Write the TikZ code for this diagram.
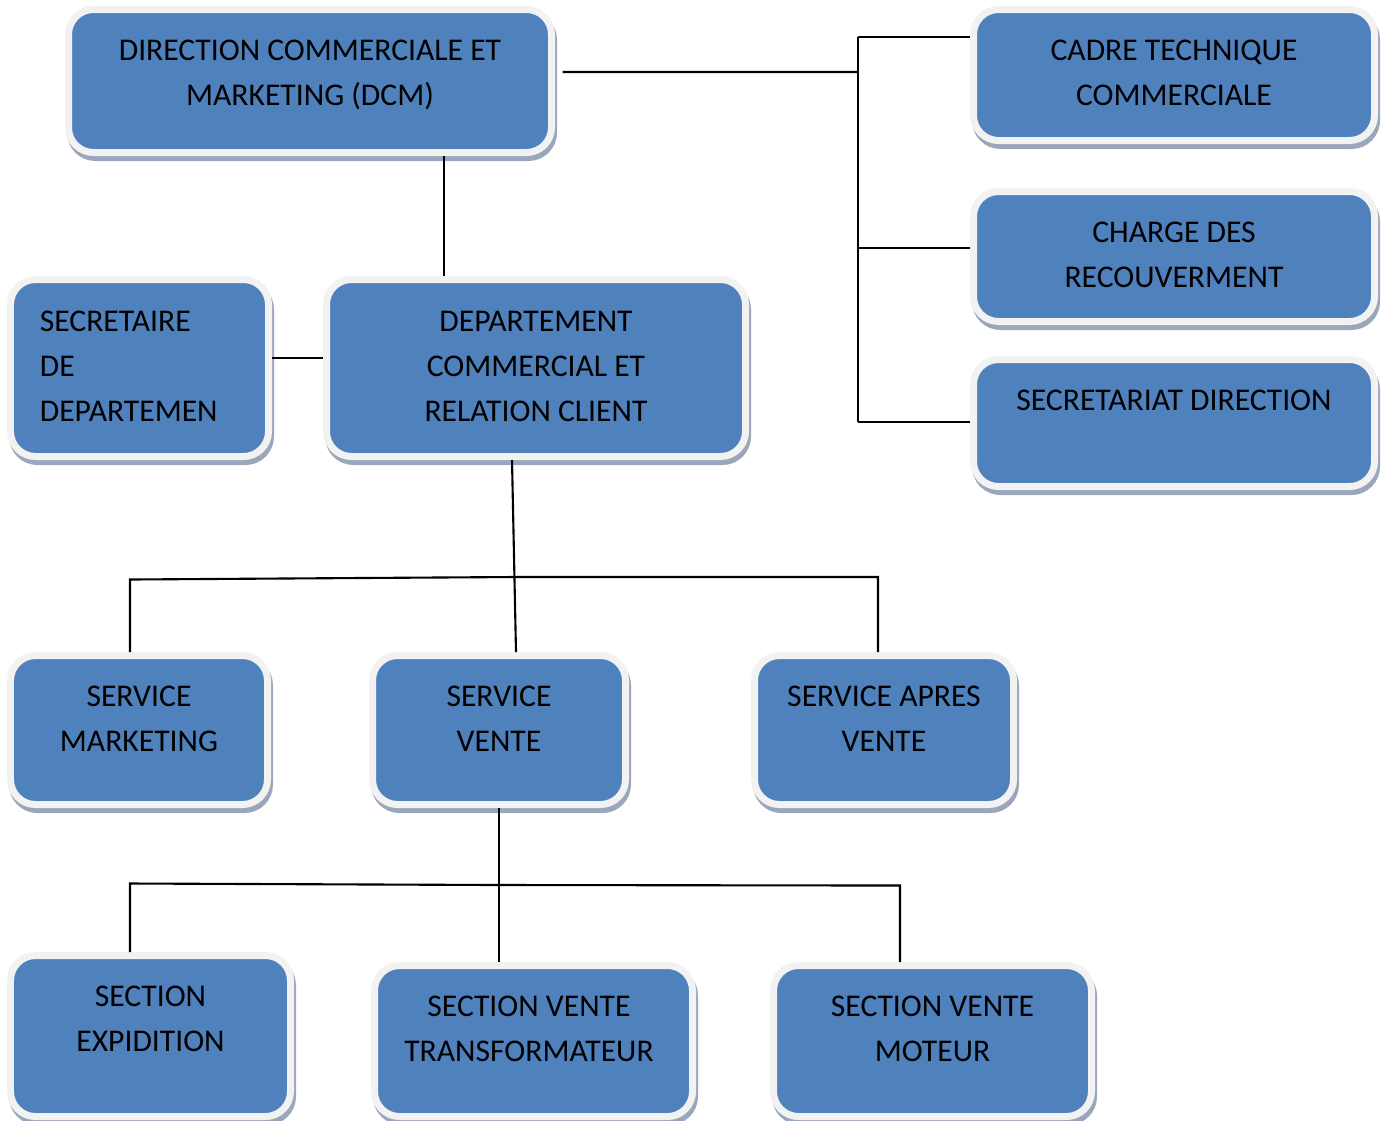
\documentclass[tikz,border=0pt]{standalone}
\usepackage{fontspec}
\setmainfont{Carlito}
\usetikzlibrary{fit,shadows}
\definecolor{unitblue}{HTML}{4F81BD}
\definecolor{unitrim}{HTML}{F2F2F2}
\definecolor{unitshade}{HTML}{9AA6BA}
\begin{document}
\begin{tikzpicture}[x=0.02cm, y=-0.02cm,
    unit/.style={rectangle, rounded corners=0.5cm, fill=unitblue,
      draw=unitrim, line width=0.14cm, inner sep=0.07cm,
      drop shadow={shadow xshift=0.04cm, shadow yshift=-0.1cm,
        fill=unitshade, draw=unitshade, line width=0.14cm, opacity=1}},
    unittext/.style={anchor=north, align=center, inner sep=0pt,
      font=\fontsize{18}{25.6}\selectfont}]
  \useasboundingbox (0,0) rectangle (1382,1120);
  % boxes
  \begin{scope}[every node/.style={unit}]
    \node[fit={(72,13) (548,149)}] (dcm) {};
    \node[fit={(977,13) (1371,137)}] (cadre) {};
    \node[fit={(977,195) (1371,318)}] (charge) {};
    \node[fit={(977,363) (1371,483)}] (secdir) {};
    \node[fit={(14,283) (265,453)}] (secdep) {};
    \node[fit={(330,283) (742,453)}] (dept) {};
    \node[fit={(14,659) (264,801)}] (smark) {};
    \node[fit={(376,659) (622,801)}] (svente) {};
    \node[fit={(758,659) (1010,801)}] (sapres) {};
    \node[fit={(14,959) (287,1113)}] (sexp) {};
    \node[fit={(378,969) (689,1113)}] (strans) {};
    \node[fit={(777,969) (1088,1113)}] (smot) {};
  \end{scope}
  % labels
  \begin{scope}[every node/.style={unittext}]
    \node (dcmtext) at ([yshift=-0.67cm]dcm.north) {DIRECTION
      COMMERCIALE ET\\MARKETING (DCM)};
    \node (cadretext) at ([yshift=-0.67cm]cadre.north) {CADRE
      TECHNIQUE\\COMMERCIALE};
    \node (chargetext) at ([yshift=-0.67cm]charge.north) {CHARGE
      DES\\RECOUVERMENT};
    \node (secdirtext) at ([yshift=-0.67cm]secdir.north) {SECRETARIAT
      DIRECTION};
    \node[anchor=north west, align=left] (secdeptext) at
    ([xshift=0.65cm,yshift=-0.69cm]secdep.north west)
    {SECRETAIRE\\DE\\DEPARTEMEN};
    \node (depttext) at ([yshift=-0.69cm]dept.north) {DEPARTEMENT\\
      COMMERCIAL ET\\RELATION CLIENT};
    \node (smarktext) at ([yshift=-0.67cm]smark.north)
    {SERVICE\\MARKETING};
    \node (sventetext) at ([yshift=-0.67cm]svente.north)
    {SERVICE\\VENTE};
    \node (saprestext) at ([yshift=-0.67cm]sapres.north) {SERVICE
      APRES\\VENTE};
    \node (sexptext) at ([yshift=-0.67cm]sexp.north)
    {SECTION\\EXPIDITION};
    \node (stranstext) at ([xshift=-0.09cm,yshift=-0.67cm]strans.north)
    {SECTION VENTE\\TRANSFORMATEUR};
    \node (smottext) at ([yshift=-0.67cm]smot.north) {SECTION
      VENTE\\MOTEUR};
  \end{scope}
  % links
  \coordinate (rbus) at (858,72); \coordinate (btop) at (858,37);
  \coordinate (bmid) at (858,248); \coordinate (bbot) at (858,422);
  \coordinate (tap) at (444,0); \coordinate (sbus) at (515,577);
  \coordinate (tbus) at (498,885);
  \begin{scope}[line width=1.2pt]
    \draw ([xshift=0.15cm,yshift=0.18cm]dcm.east) -- (rbus);
    \draw (btop) -- (bbot); \draw (btop) -- (btop -| cadre.west);
    \draw (bmid) -- (bmid -| charge.west); \draw (bbot) -- (bbot -|
    secdir.west);
    \draw (dcm.south -| tap) -- (dept.north -| tap);
    \draw ([yshift=0.2cm]secdep.east) -- ([yshift=0.2cm]dept.west);
    \draw ([xshift=-0.48cm]dept.south) -- ([xshift=0.34cm]svente.north);
    \draw ([xshift=-0.18cm]smark.north) -- ++(0,-72.5) -- (sbus) --
    ([xshift=-0.12cm]sapres.north |- sbus) --
    ([xshift=-0.12cm]sapres.north);
    \draw (svente.south) -- (svente.south |- strans.north);
    \draw ([xshift=-0.41cm]sexp.north) -- ++(0,-68.5) -- (tbus);
    \draw (tbus) -- ([xshift=-0.65cm,yshift=1.53cm]smot.north) --
    ([xshift=-0.65cm]smot.north);
  \end{scope}
\end{tikzpicture}
\end{document}
